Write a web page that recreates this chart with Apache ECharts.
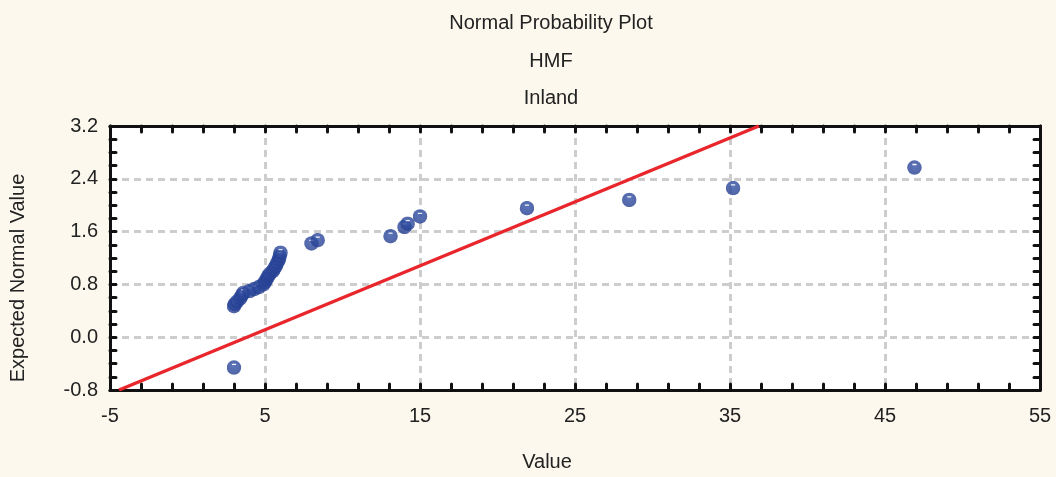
<!DOCTYPE html>
<html>
<head>
<meta charset="utf-8">
<title>Normal Probability Plot</title>
<script src="https://cdn.jsdelivr.net/npm/echarts@6/dist/echarts.min.js"></script>
<style>
  html, body { margin: 0; padding: 0; background: #fcf8ee; }
  #chart { width: 1056px; height: 477px; }
</style>
</head>
<body>
<div id="chart"></div>
<script>
// Observed values (x) and their expected normal scores (y)
const values = [
  3.0,
  3.0, 3.05, 3.2, 3.4, 3.5, 3.6, 4.0, 4.3, 4.6, 4.9, 5.0,
  5.1, 5.2, 5.3, 5.5, 5.6, 5.7, 5.8, 5.9, 5.95, 6.0,
  8.0, 8.4, 13.1, 14.0, 14.2, 15.0, 21.9, 28.5, 35.2, 46.9
];
const expectedNormal = [
  -0.46,
  0.47, 0.50, 0.54, 0.59, 0.63, 0.67, 0.70, 0.73, 0.76, 0.80, 0.84,
  0.88, 0.92, 0.96, 1.00, 1.04, 1.08, 1.13, 1.18, 1.23, 1.28,
  1.42, 1.47, 1.53, 1.67, 1.72, 1.83, 1.955, 2.08, 2.26, 2.57
];

// Reference normal line: y = (x - lineMean) / lineSd
const lineMean = 3.84;
const lineSd = 10.32;

// Axis ranges and tick steps
const xRange = [-5, 55];
const xStep = 10;
const yRange = [-0.8, 3.2];
const yStep = 0.8;

const titleLines = ['Normal Probability Plot', 'HMF', 'Inland'];

const points = values.map((v, i) => [v, expectedNormal[i]]);
const refLine = yRange.map(y => [lineMean + lineSd * y, y]);

const FONT = '"Liberation Sans", Arial, sans-serif';
const INK = '#111111';

// Marker: a shaded blue disc with a small white glint, drawn as one image
// so that overlapping points cover each other's glints.
const markerSvg =
  '<svg xmlns="http://www.w3.org/2000/svg" width="30" height="30" viewBox="0 0 30 30">' +
  '<defs><radialGradient id="g" cx="0.5" cy="0.4" r="0.6">' +
  '<stop offset="0" stop-color="#3452a8"/><stop offset="1" stop-color="#253f90"/>' +
  '</radialGradient></defs>' +
  '<circle cx="15" cy="15" r="14.5" fill="url(#g)"/>' +
  '<rect x="10.5" y="7.5" width="9" height="2.6" rx="1.3" fill="#ffffff" fill-opacity="0.95"/>' +
  '</svg>';
const markerSymbol = 'image://data:image/svg+xml;charset=utf-8,' + encodeURIComponent(markerSvg);

function axisCommon(extra) {
  return Object.assign({
    type: 'value',
    axisLine: { show: true, onZero: false, lineStyle: { color: INK, width: 3 } },
    axisTick: { show: true, inside: true, length: 6, lineStyle: { color: INK, width: 3, cap: 'round' } },
    splitLine: { show: false },
    axisLabel: { show: false }
  }, extra);
}

function minor(n) {
  return { show: true, splitNumber: n, length: 6, lineStyle: { color: INK, width: 3, cap: 'round' } };
}

const gridLine = { show: true, lineStyle: { color: '#cdcdcd', width: 3, type: [7, 5] } };

const chart = echarts.init(document.getElementById('chart'), null, { renderer: 'canvas' });

chart.setOption({
  backgroundColor: '#fcf8ee',
  animation: false,
  title: {
    text: titleLines.join('\n'),
    left: 546,
    top: 0,
    textAlign: 'center',
    textStyle: {
      fontFamily: FONT,
      fontSize: 20,
      fontWeight: 'normal',
      color: '#222',
      lineHeight: 37.5
    }
  },
  grid: {
    left: 110, right: 16, top: 126, bottom: 85,
    show: true, backgroundColor: '#ffffff', borderWidth: 0
  },
  xAxis: [
    axisCommon({
      position: 'bottom',
      min: xRange[0], max: xRange[1], interval: xStep,
      minorTick: minor(5),
      splitLine: gridLine,
      axisLabel: { show: true, fontFamily: FONT, fontSize: 20, color: '#222', margin: 16 },
      name: 'Value',
      nameLocation: 'middle',
      nameGap: 62,
      nameTextStyle: { fontFamily: FONT, fontSize: 20, color: '#222', padding: [0, 56, 0, 0] }
    }),
    axisCommon({
      position: 'top',
      min: xRange[0], max: xRange[1], interval: xStep,
      minorTick: minor(5)
    })
  ],
  yAxis: [
    axisCommon({
      position: 'left',
      min: yRange[0], max: yRange[1], interval: yStep,
      minorTick: minor(4),
      splitLine: gridLine,
      axisLabel: {
        show: true, fontFamily: FONT, fontSize: 20, color: '#222', margin: 12,
        formatter: v => v.toFixed(1)
      },
      name: 'Expected Normal Value',
      nameLocation: 'middle',
      nameGap: 82,
      nameTextStyle: { fontFamily: FONT, fontSize: 20, color: '#222', padding: [0, 40, 0, 0] }
    }),
    axisCommon({
      position: 'right',
      min: yRange[0], max: yRange[1], interval: yStep,
      minorTick: minor(4)
    })
  ],
  series: [
    {
      name: 'Normal line',
      type: 'line',
      data: refLine,
      showSymbol: false,
      clip: true,
      z: 3,
      lineStyle: { color: '#e8262b', width: 3.5 }
    },
    {
      name: 'Observations',
      type: 'scatter',
      data: points,
      symbol: markerSymbol,
      symbolSize: 15,
      z: 4
    }
  ]
});
</script>
</body>
</html>
